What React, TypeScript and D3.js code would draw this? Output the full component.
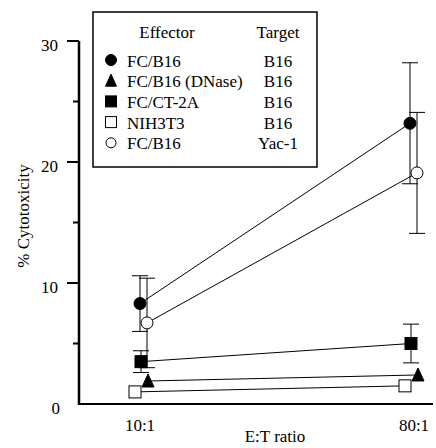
import React from 'react';
import * as d3 from 'd3';

// E:T ratios on the x axis
const ratios = ['10:1', '80:1'];

// legend rows / series
const effectors = ['FC/B16', 'FC/B16 (DNase)', 'FC/CT-2A', 'NIH3T3', 'FC/B16'];
const targets = ['B16', 'B16', 'B16', 'B16', 'Yac-1'];
const symbols = ['circle', 'triangle', 'square', 'square', 'circle'];
const filled = [true, true, true, false, false];

// % cytotoxicity, one pair per series (10:1, 80:1)
const means = [
    [8.3, 23.2],
    [1.9, 2.4],
    [3.5, 5.0],
    [1.0, 1.5],
    [6.7, 19.1],
];
const errors = [
    [2.3, 5.0],
    [0, 0],
    [0.9, 1.6],
    [0, 0],
    [3.7, 5.0],
];

const yMajor = [10, 20, 30];
const yMinor = [5, 15, 25];
const yLabels = [0, 10, 20, 30];

const width = 436, height = 448;
const font = 'Liberation Serif, Tinos, Times New Roman, DejaVu Serif, serif';

// small sideways shift so overlapping markers stay readable
const xShift = [0, 8, 1, -5, 7];

function Marker({ kind, fill, x, y, size }) {
    const f = fill ? '#000' : '#fff';
    if (kind === 'circle') {
        return <circle cx={x} cy={y} r={size / 2} fill={f} stroke="#000" strokeWidth={1} />;
    }
    if (kind === 'square') {
        return <rect x={x - size / 2} y={y - size / 2} width={size} height={size} fill={f} stroke="#000" strokeWidth={1} />;
    }
    const h = size;
    return (
        <path
            d={`M${x},${y - h / 2 - 1}L${x + size / 2},${y + h / 2}L${x - size / 2},${y + h / 2}Z`}
            fill={f} stroke="#000" strokeWidth={1}
        />
    );
}

export default function App() {
    const x = d3.scalePoint().domain(ratios).range([140, 410]);
    const y = d3.scaleLinear().domain([0, 30]).range([404, 41]);
    const line = d3.line();

    return (
        <svg width={width} height={height}
            style={{ position: 'absolute', left: 0, top: 0, background: '#fff', fontFamily: font, fontSize: 17 }}>
            {/* axes */}
            <line x1={79} x2={79} y1={y(30)} y2={y(0) + 1} stroke="#000" strokeWidth={2.5} />
            <line x1={78} x2={433} y1={y(0)} y2={y(0)} stroke="#000" strokeWidth={2.2} />
            {yMajor.map(v => (
                <line key={'M' + v} x1={67} x2={79} y1={y(v)} y2={y(v)} stroke="#000" strokeWidth={2} />
            ))}
            {yMinor.map(v => (
                <line key={'m' + v} x1={73} x2={79} y1={y(v)} y2={y(v)} stroke="#000" strokeWidth={2} />
            ))}
            {yLabels.map(v => (
                <text key={'t' + v} x={v === 0 ? 60 : 58} y={y(v) + 10} textAnchor="end">{v}</text>
            ))}
            {ratios.map((r, i) => (
                <text key={r} x={x(r) + (i === 1 ? 4 : 0)} y={431} textAnchor="middle">{r}</text>
            ))}
            <text x={275} y={442} textAnchor="middle">E:T ratio</text>
            <text transform="translate(29,216) rotate(-90)" textAnchor="middle">% Cytotoxicity</text>

            {/* connecting lines */}
            {means.map((m, s) => (
                <path key={'l' + s}
                    d={line(m.map((v, i) => [x(ratios[i]) + xShift[s], y(v)]))}
                    fill="none" stroke="#000" strokeWidth={1} />
            ))}

            {/* error bars */}
            {means.map((m, s) => m.map((v, i) => {
                const e = errors[s][i];
                if (!e) return null;
                const cx = x(ratios[i]) + xShift[s];
                return (
                    <g key={'e' + s + i} stroke="#000" strokeWidth={1}>
                        <line x1={cx} x2={cx} y1={y(v + e)} y2={y(v - e)} />
                        <line x1={cx - 8} x2={cx + 8} y1={y(v + e)} y2={y(v + e)} />
                        <line x1={cx - 8} x2={cx + 8} y1={y(v - e)} y2={y(v - e)} />
                    </g>
                );
            }))}

            {/* markers */}
            {means.map((m, s) => m.map((v, i) => (
                <Marker key={'p' + s + i} kind={symbols[s]} fill={filled[s]}
                    x={x(ratios[i]) + xShift[s]} y={y(v)} size={12} />
            )))}

            {/* legend */}
            <rect x={93} y={12} width={224} height={155} fill="#fff" stroke="#000" strokeWidth={1.5} />
            <text x={167} y={38} textAnchor="middle">Effector</text>
            <text x={278} y={38} textAnchor="middle">Target</text>
            {effectors.map((name, s) => {
                const by = 66.5 + s * 20.7;
                return (
                    <g key={'g' + s}>
                        <Marker kind={symbols[s]} fill={filled[s]} x={111} y={by - 6.5}
                            size={symbols[s] === 'circle' && !filled[s] ? 10 : 11} />
                        <text x={127} y={by}>{name}</text>
                        <text x={278} y={by} textAnchor="middle">{targets[s]}</text>
                    </g>
                );
            })}
        </svg>
    );
}
